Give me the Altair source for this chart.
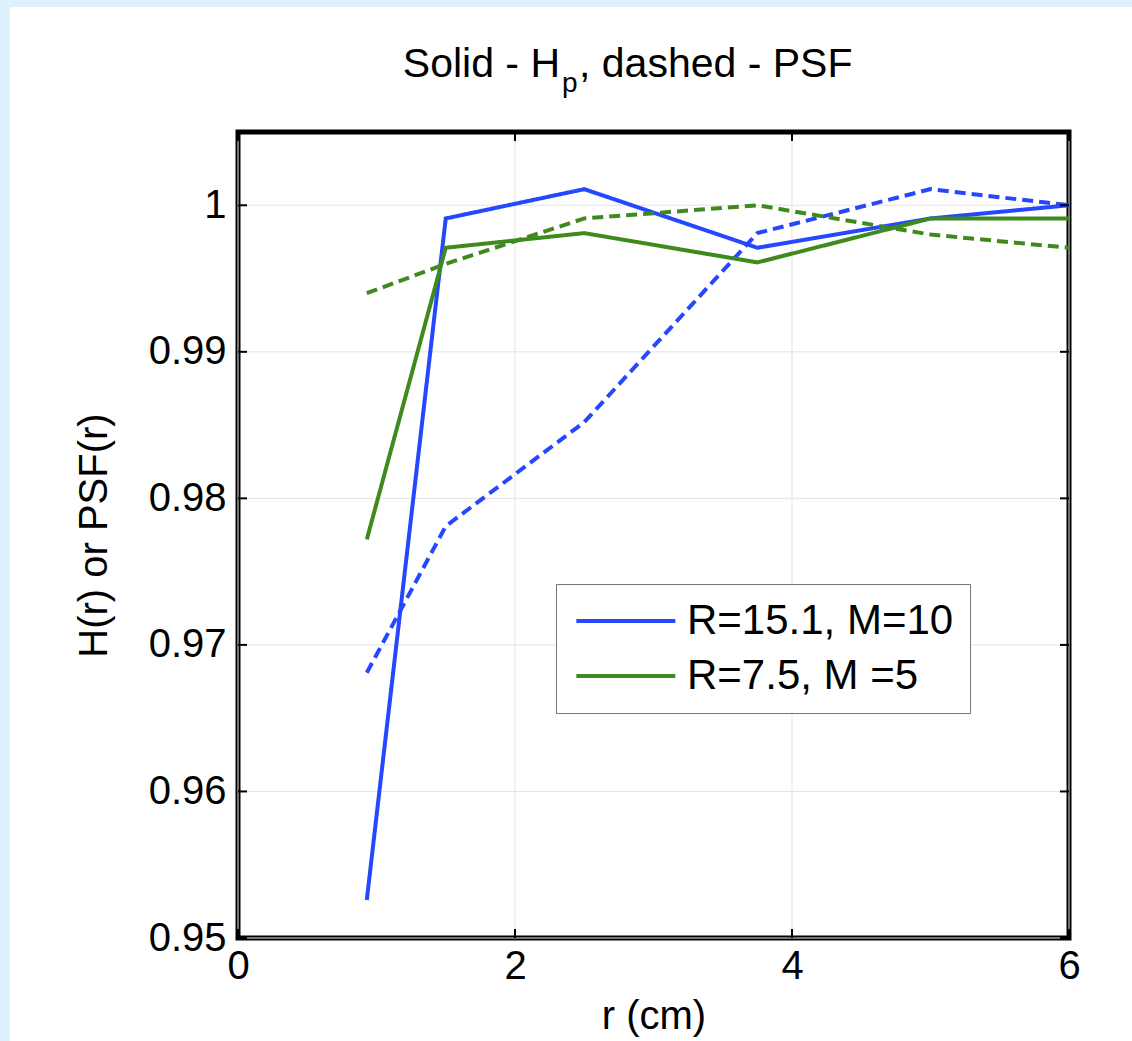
import altair as alt
import pandas as pd

# ---------------- data ----------------
r_values = [0.93, 1.5, 2.5, 3.75, 5.0, 6.0]
blue_H = [0.9526, 0.9991, 1.0011, 0.9971, 0.9991, 1.0000]
blue_PSF = [0.9681, 0.9781, 0.9852, 0.9981, 1.0011, 1.0000]
green_H = [0.9772, 0.9971, 0.9981, 0.9961, 0.9991, 0.9991]
green_PSF = [0.9940, 0.9960, 0.9991, 1.0000, 0.9980, 0.9971]

series_labels = ["R=15.1, M=10", "R=7.5, M =5"]
kinds = ["H", "PSF"]
x_ticks = [0, 2, 4, 6]
y_ticks = [0.95, 0.96, 0.97, 0.98, 0.99, 1.0]

rows = []
for lab, kind, vals in [
    (series_labels[0], "H", blue_H),
    (series_labels[0], "PSF", blue_PSF),
    (series_labels[1], "H", green_H),
    (series_labels[1], "PSF", green_PSF),
]:
    for rv, v in zip(r_values, vals):
        rows.append({"r": rv, "value": v, "series": lab, "kind": kind})
df = pd.DataFrame(rows)
df_xt = pd.DataFrame({"t": x_ticks})
df_yt = pd.DataFrame({"t": y_ticks})

# ---------------- layout ----------------
W, H = 831, 806
PL, PT, PR, PB = 238, 132, 63, 103
FONT = "Liberation Sans"
BLUE = "#2447ff"
GREEN = "#3f8a1f"
BG = "#dff1fc"

xs = alt.Scale(domain=[0, 6], nice=False, zero=False)
ys = alt.Scale(domain=[0.95, 1.005], nice=False, zero=False)

one = alt.Data(values=[{}])

# blue border stripes of the page
stripe_left = alt.Chart(one).mark_rect(color=BG).encode(
    x=alt.value(-PL), x2=alt.value(-PL + 10), y=alt.value(-PT), y2=alt.value(H + PB)
)
stripe_top = alt.Chart(one).mark_rect(color=BG).encode(
    x=alt.value(-PL), x2=alt.value(W + PR), y=alt.value(-PT), y2=alt.value(-PT + 7)
)

# grid
grid_x = alt.Chart(df_xt).mark_rule(color="#e3e3e3", strokeWidth=1).encode(
    x=alt.X("t:Q", scale=xs,
            axis=alt.Axis(values=x_ticks, format="d", title="r (cm)", grid=False, domain=False,
                          ticks=False, tickSize=0, labelFontSize=40, labelFont=FONT,
                          labelPadding=8, titleFontSize=40, titleFont=FONT,
                          titleFontWeight="normal", titlePadding=10, labelColor="black",
                          titleColor="black", labelFlush=False))
)
grid_y = alt.Chart(df_yt).mark_rule(color="#e3e3e3", strokeWidth=1).encode(
    y=alt.Y("t:Q", scale=ys,
            axis=alt.Axis(values=y_ticks, format=".2~f", title="H(r) or PSF(r)", grid=False,
                          domain=False, ticks=False, tickSize=0, labelFontSize=40,
                          labelFont=FONT, labelPadding=12, titleFontSize=40, titleFont=FONT,
                          titleFontWeight="normal", titlePadding=34, labelColor="black",
                          titleColor="black", labelFlush=False))
)

lines = alt.Chart(df).mark_line(strokeWidth=4).encode(
    x=alt.X("r:Q", scale=xs),
    y=alt.Y("value:Q", scale=ys),
    color=alt.Color("series:N", scale=alt.Scale(domain=series_labels, range=[BLUE, GREEN]),
                    legend=alt.Legend(title=None, orient="none", legendX=318, legendY=452,
                                      symbolType="M-1.7,0H8.4", symbolSize=384,
                                      symbolStrokeWidth=4, labelFontSize=42, labelFont=FONT,
                                      labelColor="black", labelOffset=73, rowPadding=13,
                                      padding=16, strokeColor="#777777", fillColor="white",
                                      labelLimit=600)),
    strokeDash=alt.StrokeDash("kind:N", scale=alt.Scale(domain=kinds, range=[[1, 0], [11, 6]]),
                              legend=None),
    detail="kind:N",
)

# inward tick marks
tick_l = alt.Chart(df_yt).mark_rule(color="black", strokeWidth=2).encode(
    y=alt.Y("t:Q", scale=ys), x=alt.value(0), x2=alt.value(9))
tick_r = alt.Chart(df_yt).mark_rule(color="black", strokeWidth=2).encode(
    y=alt.Y("t:Q", scale=ys), x=alt.value(W - 9), x2=alt.value(W))
tick_b = alt.Chart(df_xt).mark_rule(color="black", strokeWidth=2).encode(
    x=alt.X("t:Q", scale=xs), y=alt.value(H - 9), y2=alt.value(H))
tick_t = alt.Chart(df_xt).mark_rule(color="black", strokeWidth=2).encode(
    x=alt.X("t:Q", scale=xs), y=alt.value(0), y2=alt.value(9))

# title with subscript
title_a = alt.Chart(one).mark_text(text="Solid - H", fontSize=41, font=FONT, align="right",
                                   baseline="alphabetic", color="black").encode(
    x=alt.value(322), y=alt.value(-55))
title_b = alt.Chart(one).mark_text(text="p", fontSize=28, font=FONT, align="left",
                                   baseline="alphabetic", color="black").encode(
    x=alt.value(324), y=alt.value(-40))
title_c = alt.Chart(one).mark_text(text=", dashed - PSF", fontSize=41, font=FONT, align="left",
                                   baseline="alphabetic", color="black").encode(
    x=alt.value(341), y=alt.value(-55))

chart = alt.layer(
    stripe_left, stripe_top, grid_x, grid_y, lines,
    tick_l, tick_r, tick_b, tick_t, title_a, title_b, title_c
).properties(
    width=W, height=H,
    autosize=alt.AutoSizeParams(type="none"),
    padding={"left": PL, "top": PT, "right": PR, "bottom": PB},
    background="white",
).configure_view(
    stroke="black", strokeWidth=5, fill="white"
)

chart.save("out.html", embed_options={"renderer": "svg", "actions": False})
